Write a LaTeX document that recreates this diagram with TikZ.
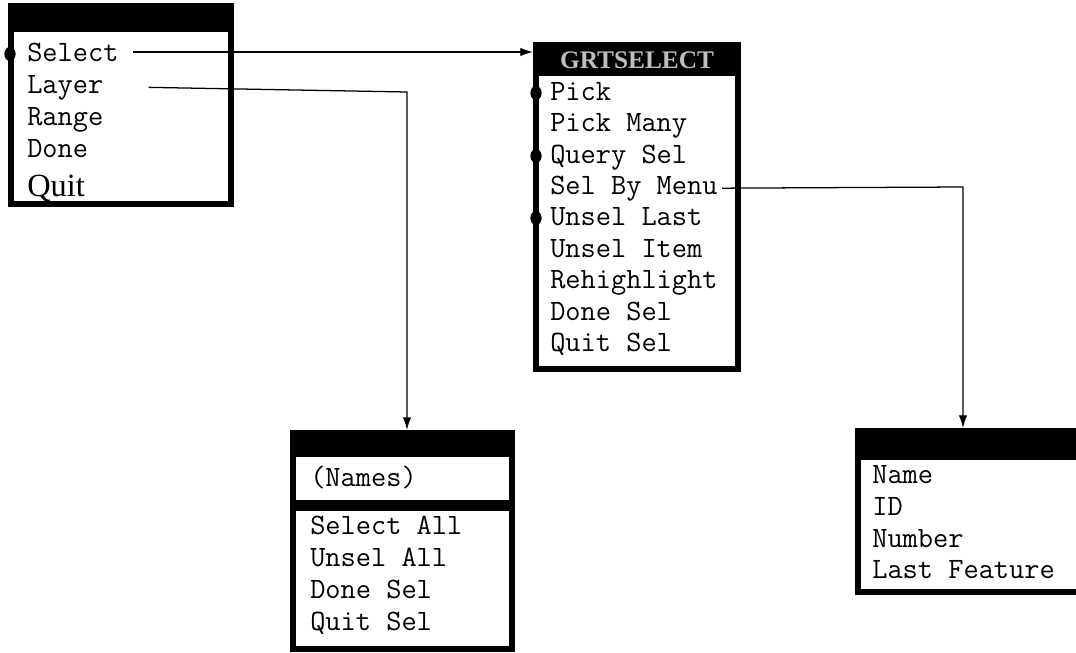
\documentclass[tikz,border=0pt]{standalone}
\usepackage{fontspec}
\setmainfont{Liberation Serif}
\usetikzlibrary{arrows.meta,shapes.geometric}

\tikzset{
    menu/.style={draw=black,line width=4.3pt,fill=white,inner sep=0pt},
    item/.style={anchor=base west,inner sep=0pt,font=\fontsize{21}{23}\selectfont\ttfamily},
    dot/.style={ellipse,fill=black,inner sep=0pt,minimum width=8pt,minimum height=10pt},
    link/.style={line width=0.9pt,-{Latex[length=9pt,width=6pt]}}
}

\begin{document}
\begin{tikzpicture}[x=0.025cm,y=-0.025cm]
    \useasboundingbox (0,0) rectangle (1076,652);

    % menu frames
    \node[menu,minimum width=5.5cm,minimum height=4.95cm] (M1) at (121,105) {};
    \node[menu,minimum width=5.05cm,minimum height=8.1cm] (M2) at (637,207) {};
    \node[menu,minimum width=5.475cm,minimum height=5.4cm] (M3) at (402.5,541) {};
    \node[menu,minimum width=5.675cm,minimum height=4.025cm] (M4) at (971.5,511.5) {};
    \fill (8,3) rectangle (234,32);
    \fill (533,42) rectangle (741,76);
    \fill (290,430) rectangle (515,457);
    \fill (290,500) rectangle (515,511);
    \fill (855,428) rectangle (1085,460);
    \node[font=\fontsize{18}{20}\selectfont\bfseries,text=gray!50] (T2) at (637,60) {GRTSELECT};

    % items
    \node[item] (Sel) at (27,61) {Select};
    \node[item] (Lay) at (27,93) {Layer};
    \node[item] (Ran) at (27,125) {Range};
    \node[item] (Don) at (27,157) {Done};
    \node[item,font=\fontsize{23}{25}\selectfont] (Qui) at (27,196) {Quit};

    \node[item] (Pk) at (550,100) {Pick};
    \node[item] (PkM) at (550,131) {Pick Many};
    \node[item] (QSel) at (550,163) {Query Sel};
    \node[item] (SBM) at (550,194) {Sel By Menu};
    \node[item] (ULast) at (550,225) {Unsel Last};
    \node[item] (UItem) at (550,257) {Unsel Item};
    \node[item] (Reh) at (550,288) {Rehighlight};
    \node[item] (DSel) at (550,320) {Done Sel};
    \node[item] (QtSel) at (550,351) {Quit Sel};

    \node[item] (Nam) at (310,486) {(Names)};
    \node[item] (SAll) at (310,534) {Select All};
    \node[item] (UAll) at (310,566) {Unsel All};
    \node[item] (DSel3) at (310,598) {Done Sel};
    \node[item] (QSel3) at (310,630) {Quit Sel};

    \node[item] (Name) at (872,483) {Name};
    \node[item] (ID) at (872,515) {ID};
    \node[item] (Num) at (872,547) {Number};
    \node[item] (LFe) at (872,578) {Last Feature};

    % bullets
    \node[dot] (B1) at (10,54) {};
    \node[dot] (B2) at (536,93) {};
    \node[dot] (B3) at (536,156) {};
    \node[dot] (B4) at (536,218) {};

    % connectors
    \coordinate (c1) at (407,92);
    \coordinate (c2) at (963,187);
    \draw[link] ([xshift=10]Sel.east) -- (Sel.east -| M2.west);
    \draw[link] ([xshift=32]Lay.east) -- (c1) -- (c1 |- M3.north);
    \draw[link] ([xshift=3]SBM.east) -- (c2) -- (c2 |- M4.north);

\end{tikzpicture}
\end{document}
